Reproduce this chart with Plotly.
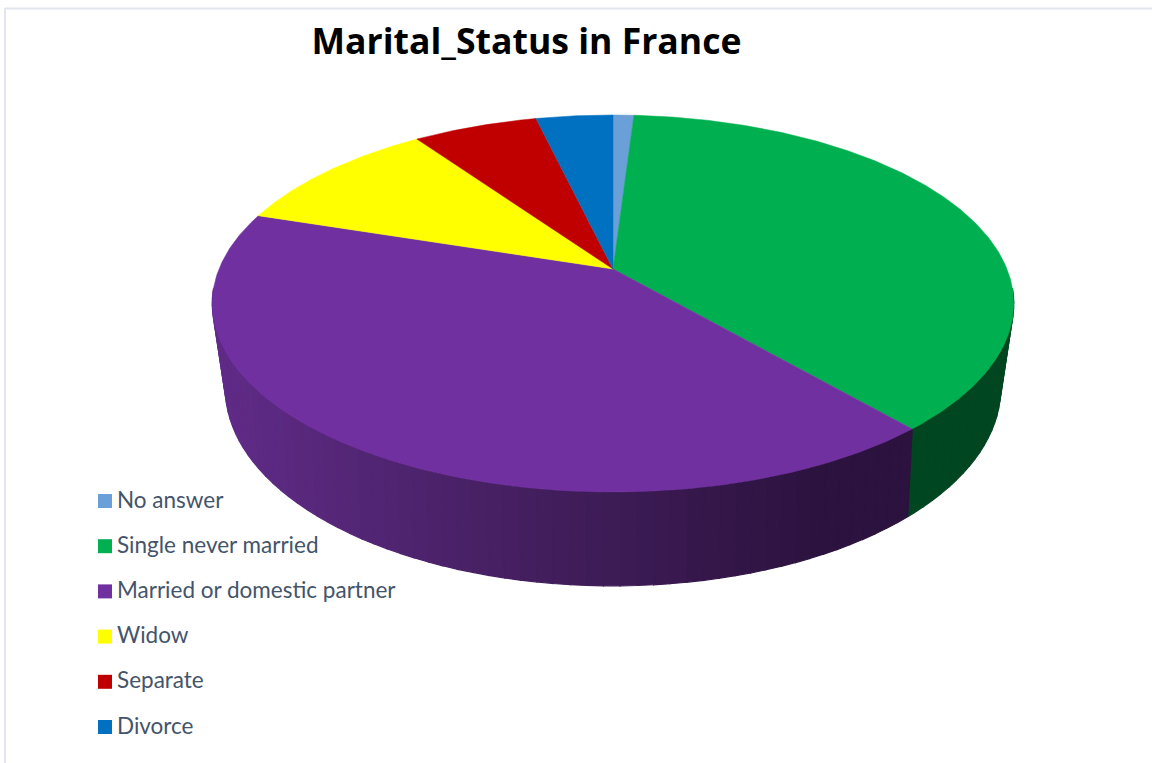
import numpy as np
import plotly.graph_objects as go

# Chart data (percent of respondents)
categories = ["No answer", "Single never married", "Married or domestic partner",
              "Widow", "Separate", "Divorce"]
shares = [1.0, 37.65, 41.35, 10.3, 6.0, 3.7]
top_colors = ["#6a9fd8", "#00b050", "#7030a0", "#ffff00", "#c00000", "#0070c0"]
title_text = "Marital_Status in France"
W, H = 1152, 763
CX = 613


def project(theta, cy, a, b, k):
    """Perspective view of a circle; theta is clockwise from 12 o'clock, in degrees."""
    t = np.radians(theta)
    u = -np.cos(t)
    w = 1 - k * u
    return CX + a * np.sin(t) / w, cy + b * u / w


TOP = dict(cy=269, a=394, b=182.2, k=0.183)
BOT = dict(cy=347, a=379, b=188.7, k=0.21)


def mix(c0, c1, f):
    f = min(max(f, 0), 1)
    return "rgb(%d,%d,%d)" % tuple(round(p + (q - p) * f) for p, q in zip(c0, c1))


def side_color(i, x):
    if categories[i] == "Married or domestic partner":
        if x < 500:
            return mix((96, 43, 136), (70, 32, 98), (x - 225) / 275)
        return mix((70, 32, 98), (44, 18, 62), (x - 500) / 320)
    if categories[i] == "Single never married":
        return "#004620"
    return "#333333"


fig = go.Figure()
edges = 360 * np.cumsum([0] + shares) / sum(shares)

# Side wall, drawn from the back towards the viewer
side_strips = []
for i in range(len(shares)):
    lo, hi = max(edges[i], 96), min(edges[i + 1], 264)
    if hi <= lo:
        continue
    steps = np.arange(lo, hi, 2.0).tolist() + [hi]
    for s0, s1 in zip(steps[:-1], steps[1:]):
        side_strips.append((i, s0, s1))
side_strips.sort(key=lambda r: abs(180 - (r[1] + r[2]) / 2), reverse=True)
for i, s0, s1 in side_strips:
    th = np.linspace(s0, s1, 4)
    xt, yt = project(th, **TOP)
    xb, yb = project(th, **BOT)
    col = side_color(i, float(xb.mean()))
    fig.add_trace(go.Scatter(
        x=[*xt, *xb[::-1], xt[0]], y=[*yt, *yb[::-1], yt[0]],
        mode="lines", fill="toself", fillcolor=col, line=dict(color=col, width=1.2),
        hoverinfo="skip", showlegend=False))

# Top face
for i, name in enumerate(categories):
    th = np.linspace(edges[i], edges[i + 1], max(int(edges[i + 1] - edges[i]) * 2, 6))
    xs, ys = project(th, **TOP)
    fig.add_trace(go.Scatter(
        x=[CX, *xs, CX], y=[TOP["cy"], *ys, TOP["cy"]], mode="lines", fill="toself",
        fillcolor=top_colors[i], line=dict(color=top_colors[i], width=0.5),
        name=name, text=f"{name}: {shares[i]}%", hoverinfo="text", showlegend=False))

# Legend column
for i, name in enumerate(categories):
    fig.add_trace(go.Scatter(
        x=[105], y=[501 + 45.2 * i], mode="markers",
        marker=dict(symbol="square", size=14, color=top_colors[i], line=dict(width=0)),
        hoverinfo="skip", showlegend=False))
    fig.add_trace(go.Scatter(
        x=[117], y=[502 + 45.2 * i], mode="text", text=[name],
        textposition="middle right", cliponaxis=False,
        textfont=dict(family="Lato", size=22.5, color="#44546a"),
        hoverinfo="skip", showlegend=False))

frame = dict(type="line", xref="paper", yref="paper", line=dict(color="#e3e6ee", width=2))
fig.update_layout(
    width=W, height=H, margin=dict(l=0, r=0, t=0, b=0), autosize=False,
    paper_bgcolor="white", plot_bgcolor="white", showlegend=False,
    title=dict(text=f"<b>{title_text}</b>", x=526.5 / W, xanchor="center",
               y=1 - 41.5 / H, yanchor="middle", xref="paper", yref="paper",
               font=dict(family="Open Sans", size=35.6, color="black")),
    xaxis=dict(range=[0, W], visible=False, fixedrange=True),
    yaxis=dict(range=[H, 0], visible=False, fixedrange=True),
    shapes=[dict(frame, x0=5 / W, x1=5 / W, y0=0, y1=1 - 8 / H),
            dict(frame, x0=5 / W, x1=1, y0=1 - 8.5 / H, y1=1 - 8.5 / H)],
)
fig.write_html("out.html", config=dict(displayModeBar=False),
               post_script="document.body.style.margin='0';document.body.style.overflow='hidden';")
